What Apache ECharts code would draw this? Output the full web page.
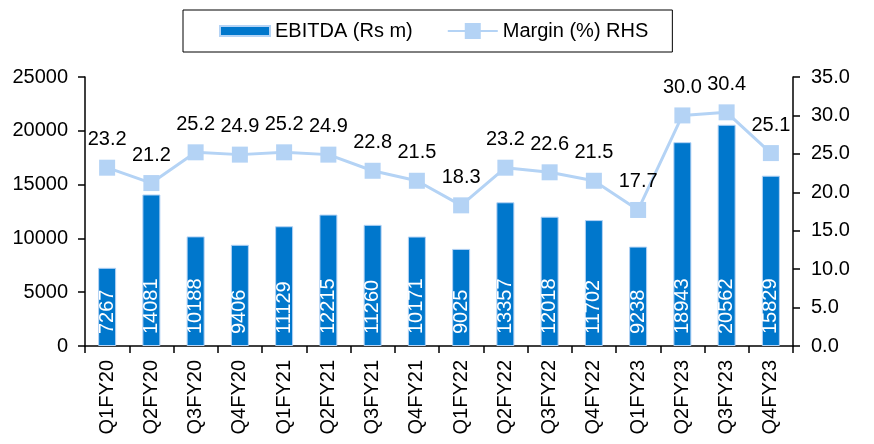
<!DOCTYPE html>
<html>
<head>
<meta charset="utf-8">
<script src="https://cdn.jsdelivr.net/npm/echarts@6/dist/echarts.min.js"></script>
<style>
    html, body { margin: 0; padding: 0; background: #fff; }
    #chart { width: 874px; height: 444px; }
</style>
</head>
<body>
<div id="chart"></div>
<script>
    // quarters on the x axis
    var quarters = ['Q1FY20', 'Q2FY20', 'Q3FY20', 'Q4FY20', 'Q1FY21', 'Q2FY21', 'Q3FY21', 'Q4FY21',
        'Q1FY22', 'Q2FY22', 'Q3FY22', 'Q4FY22', 'Q1FY23', 'Q2FY23', 'Q3FY23', 'Q4FY23'];
    var ebitda = [7267, 14081, 10188, 9406, 11129, 12215, 11260, 10171,
        9025, 13357, 12018, 11702, 9238, 18943, 20562, 15829];
    var margin = [23.2, 21.2, 25.2, 24.9, 25.2, 24.9, 22.8, 21.5,
        18.3, 23.2, 22.6, 21.5, 17.7, 30.0, 30.4, 25.1];

    var font = 'Liberation Sans, Arial, sans-serif';
    var chart = echarts.init(document.getElementById('chart'));

    chart.setOption({
        animation: false,
        textStyle: { fontFamily: font },
        legend: {
            left: 183,
            top: 10,
            padding: [10, 24, 10, 36],
            borderColor: '#000',
            borderWidth: 1,
            itemGap: 34,
            itemWidth: 50,
            itemHeight: 20,
            textStyle: { fontSize: 20, color: '#000', fontFamily: font },
            data: [
                // bar swatch is thinner than the item box
                { name: 'EBITDA (Rs m)', icon: 'path://M0,0M0,5L50,5L50,15L0,15ZM0,20' },
                { name: 'Margin (%) RHS' }
            ]
        },
        grid: { left: 85, right: 81, top: 77, bottom: 98 },
        xAxis: {
            type: 'category',
            data: quarters,
            axisLine: { lineStyle: { color: '#000', width: 1.5 } },
            axisTick: { show: true, length: 7, lineStyle: { color: '#000', width: 1.5 } },
            axisLabel: { rotate: 90, fontSize: 20, color: '#000', margin: 14 }
        },
        yAxis: [{
            type: 'value',
            min: 0, max: 25000, interval: 5000,
            splitLine: { show: false },
            axisLine: { show: true, lineStyle: { color: '#000', width: 1.5 } },
            axisTick: { show: true, length: 7, lineStyle: { color: '#000', width: 1.5 } },
            axisLabel: {
                fontSize: 20, color: '#000', margin: 17,
                formatter: function (v) { return String(v); }
            }
        }, {
            type: 'value',
            min: 0, max: 35, interval: 5,
            splitLine: { show: false },
            axisLine: { show: true, lineStyle: { color: '#000', width: 1.5 } },
            axisTick: { show: true, length: 7, lineStyle: { color: '#000', width: 1.5 } },
            axisLabel: {
                fontSize: 20, color: '#000', margin: 18,
                formatter: function (v) { return v.toFixed(1); }
            }
        }],
        series: [{
            name: 'EBITDA (Rs m)',
            type: 'bar',
            data: ebitda,
            barWidth: 18,
            itemStyle: { color: '#0077CC', borderColor: '#B4D3F5', borderWidth: 1 },
            label: {
                show: true,
                position: 'insideBottom',
                rotate: 90,
                align: 'left',
                verticalAlign: 'middle',
                distance: 12,
                color: '#fff',
                fontSize: 20
            }
        }, {
            name: 'Margin (%) RHS',
            type: 'line',
            yAxisIndex: 1,
            data: margin,
            symbol: 'rect',
            symbolSize: 16,
            color: '#B4D3F5',
            lineStyle: { color: '#B4D3F5', width: 3 },
            itemStyle: { color: '#B4D3F5' },
            label: {
                show: true,
                position: 'top',
                distance: 10,
                color: '#000',
                fontSize: 20,
                formatter: function (p) { return p.value.toFixed(1); }
            }
        }]
    });
</script>
</body>
</html>
